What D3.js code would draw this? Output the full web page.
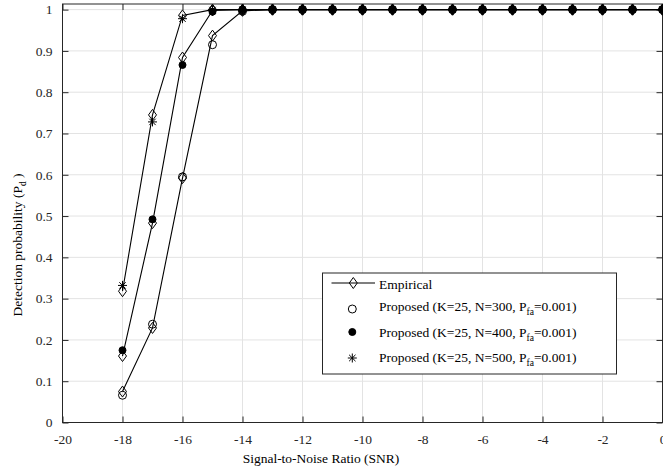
<!DOCTYPE html>
<html><head><meta charset="utf-8">
<script src="https://cdn.jsdelivr.net/npm/d3@7"></script>
<style>
html,body{margin:0;padding:0;background:#fff;}
svg{display:block;font-family:"Liberation Serif","Times New Roman",serif;}
</style></head>
<body>
<svg id="c" width="663" height="474"></svg>
<script>
// ---- data ----
const snr = [-18,-17,-16,-15,-14,-13,-12,-11,-10,-9,-8,-7,-6,-5,-4,-3,-2,-1,0];
const emp300  = [0.075,0.229,0.592,0.937,0.997,1,1,1,1,1,1,1,1,1,1,1,1,1,1];
const prop300 = [0.066,0.238,0.595,0.915,0.996,1,1,1,1,1,1,1,1,1,1,1,1,1,1];
const emp400  = [0.161,0.483,0.884,0.998,1,1,1,1,1,1,1,1,1,1,1,1,1,1,1];
const prop400 = [0.175,0.492,0.866,0.995,1,1,1,1,1,1,1,1,1,1,1,1,1,1,1];
const emp500  = [0.318,0.745,0.986,1,1,1,1,1,1,1,1,1,1,1,1,1,1,1,1];
const prop500 = [0.332,0.728,0.978,0.999,1,1,1,1,1,1,1,1,1,1,1,1,1,1,1];
const xTicks = [-20,-18,-16,-14,-12,-10,-8,-6,-4,-2,0];
const xTickLabels = ["-20","-18","-16","-14","-12","-10","-8","-6","-4","-2","0"];
const yTicks = [0,0.1,0.2,0.3,0.4,0.5,0.6,0.7,0.8,0.9,1];
const yTickLabels = ["0","0.1","0.2","0.3","0.4","0.5","0.6","0.7","0.8","0.9","1"];
const legendLabels = ["Empirical","Proposed (K=25, N=300, P","Proposed (K=25, N=400, P","Proposed (K=25, N=500, P"];

const svg = d3.select("#c");
const L = 62.5, R = 662.5, T = 4, B = 422.5;
const x = d3.scaleLinear().domain([-20,0]).range([L,R]);
const y = d3.scaleLinear().domain([0,1.0136]).range([B,T]);
const axisCol = "#262626", gridCol = "#e3e3e3";

// grid
const g = svg.append("g");
g.selectAll(".gx").data(xTicks.slice(1,-1)).enter().append("line")
  .attr("x1",d=>x(d)).attr("x2",d=>x(d)).attr("y1",T).attr("y2",B)
  .attr("stroke",gridCol).attr("stroke-width",1);
g.selectAll(".gy").data(yTicks.slice(1)).enter().append("line")
  .attr("x1",L).attr("x2",R).attr("y1",d=>y(d)).attr("y2",d=>y(d))
  .attr("stroke",gridCol).attr("stroke-width",1);

// axes
const fs = "13.5px";
const xb = svg.append("g").attr("transform",`translate(0,${B})`)
  .call(d3.axisBottom(x).tickValues(xTicks).tickSize(-6).tickPadding(12).tickFormat((d,i)=>xTickLabels[i]));
const xt = svg.append("g").attr("transform",`translate(0,${T})`)
  .call(d3.axisTop(x).tickValues(xTicks).tickSize(-6).tickFormat(""));
const yl = svg.append("g").attr("transform",`translate(${L},0)`)
  .call(d3.axisLeft(y).tickValues(yTicks).tickSize(-6).tickPadding(10).tickFormat((d,i)=>yTickLabels[i]));
const yr = svg.append("g").attr("transform",`translate(${R},0)`)
  .call(d3.axisRight(y).tickValues(yTicks).tickSize(-6).tickFormat(""));
[xb,xt,yl,yr].forEach(a=>{
  a.select(".domain").remove();
  a.selectAll("line").attr("stroke",axisCol).attr("stroke-width",1);
  a.selectAll("text").attr("fill","#262626").style("font-size",fs).style("font-family","Liberation Serif");
});
svg.append("rect").attr("x",L).attr("y",T).attr("width",R-L).attr("height",B-T)
  .attr("fill","none").attr("stroke",axisCol).attr("stroke-width",1);

// markers
function diamond(sel,cx,cy){
  sel.append("path").attr("d",`M${cx},${cy-5.5}L${cx+4},${cy}L${cx},${cy+5.5}L${cx-4},${cy}Z`)
    .attr("fill","none").attr("stroke","#000").attr("stroke-width",1);
}
function circ(sel,cx,cy,filled){
  sel.append("circle").attr("cx",cx).attr("cy",cy).attr("r",filled?3.5:4)
    .attr("fill",filled?"#000":"none").attr("stroke","#000").attr("stroke-width",1);
}
function star(sel,cx,cy){
  const s=4.5, d=3.2;
  sel.append("path").attr("d",`M${cx},${cy-s}V${cy+s}M${cx-s},${cy}H${cx+s}M${cx-d},${cy-d}L${cx+d},${cy+d}M${cx-d},${cy+d}L${cx+d},${cy-d}`)
    .attr("stroke","#000").attr("stroke-width",1).attr("fill","none");
}

const plot = svg.append("g");
const line = d3.line().x((d,i)=>x(snr[i])).y(d=>y(d));
[emp300,emp400,emp500].forEach(s=>{
  plot.append("path").attr("d",line(s)).attr("fill","none").attr("stroke","#000").attr("stroke-width",1.1);
  s.forEach((v,i)=>diamond(plot,x(snr[i]),y(v)));
});
prop300.forEach((v,i)=>circ(plot,x(snr[i]),y(v),false));
prop400.forEach((v,i)=>circ(plot,x(snr[i]),y(v),true));
prop500.forEach((v,i)=>star(plot,x(snr[i]),y(v)));

// axis labels
svg.append("text").attr("x",321).attr("y",463).attr("text-anchor","middle")
  .style("font-size",fs).attr("fill","#000").text("Signal-to-Noise Ratio (SNR)");
const ylab = svg.append("text").attr("transform","translate(22,245) rotate(-90)").attr("text-anchor","middle")
  .style("font-size",fs).attr("fill","#000");
ylab.append("tspan").text("Detection probability (P");
ylab.append("tspan").attr("dy",4).style("font-size","9.5px").text("d");
ylab.append("tspan").attr("dy",-4).text(" )");

// legend
const lg = svg.append("g");
lg.append("rect").attr("x",322.5).attr("y",273).attr("width",294).attr("height",101)
  .attr("fill","#fff").attr("stroke",axisCol).attr("stroke-width",1);
const rowsText = [284.5,306,332,357];
const rowsMark = [283,309,332,358];
lg.append("line").attr("x1",331.5).attr("x2",375).attr("y1",rowsMark[0]).attr("y2",rowsMark[0])
  .attr("stroke","#000").attr("stroke-width",1.1);
diamond(lg,353.3,rowsMark[0]);
circ(lg,352.3,rowsMark[1],false);
circ(lg,352.3,rowsMark[2],true);
star(lg,352.3,rowsMark[3]);
legendLabels.forEach((t,i)=>{
  const tx = lg.append("text").attr("x",379).attr("y",rowsText[i]+4.5).style("font-size",fs).attr("fill","#000");
  tx.append("tspan").text(t);
  if(i>0){
    tx.append("tspan").attr("dy",4.5).style("font-size","9.5px").text("fa");
    tx.append("tspan").attr("dy",-4.5).text("=0.001)");
  }
});
</script>
</body></html>
